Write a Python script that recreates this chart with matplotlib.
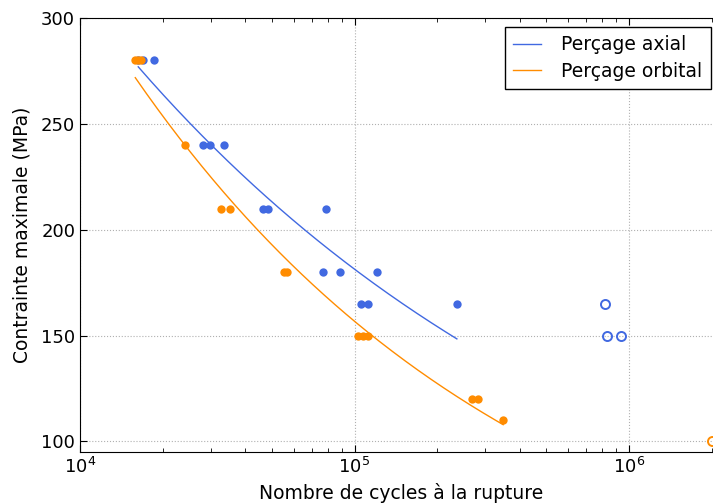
import numpy as np
import matplotlib.pyplot as plt

# essais rompus
axial_N = [16300, 16950, 18600, 28000, 29700, 33400, 46600, 48500, 78500,
           76500, 88300, 121000, 106000, 111700, 236000]
axial_S = [280, 280, 280, 240, 240, 240, 210, 210, 210,
           180, 180, 180, 165, 165, 165]
orbital_N = [15900, 16300, 16700, 24200, 32500, 35200, 55300, 56900,
             103000, 107000, 112000, 268000, 282000, 348000]
orbital_S = [280, 280, 280, 240, 210, 210, 180, 180,
             150, 150, 150, 120, 120, 110]

# essais non rompus
axial_run_N = [818000, 832000, 935000]
axial_run_S = [165, 150, 150]
orbital_run_N = [2000000]
orbital_run_S = [100]

blue = 'royalblue'
orange = 'darkorange'
fs = 13.5

fig = plt.figure(figsize=(7.13, 5.04), dpi=100)
xmax = 2.18e6
w = np.log10(xmax / 1e4) * 274.5 / 713
ax = fig.add_axes([80/713, 1 - 452/504, w, (452 - 18)/504])


def basquin(N, S):
    b, a = np.polyfit(np.log10(N), np.log10(S), 1)
    x = np.geomspace(min(N), max(N), 200)
    return x, 10**a * x**b


x, y = basquin(axial_N, axial_S)
ax.plot(x, y, color=blue, lw=1, label='Perçage axial')
x, y = basquin(orbital_N, orbital_S)
ax.plot(x, y, color=orange, lw=1, label='Perçage orbital')

ax.plot(axial_N, axial_S, 'o', color=blue, ms=6, mec='none')
ax.plot(orbital_N, orbital_S, 'o', color=orange, ms=6, mec='none')
ax.plot(axial_run_N, axial_run_S, 'o', mfc='none', mec=blue, ms=6.5, mew=1.4)
ax.plot(orbital_run_N, orbital_run_S, 'o', mfc='none', mec=orange, ms=6.5, mew=1.4,
        clip_on=False)

ax.set_xscale('log')
ax.set_xlim(1e4, xmax)
ax.set_ylim(95, 300)
ax.set_yticks([100, 150, 200, 250, 300])
ax.grid(True, color='#b0b0b0', ls=':', lw=0.8)
ax.tick_params(which='both', direction='in', top=True, right=True, labelsize=13)
ax.tick_params(which='major', length=5)
ax.tick_params(which='minor', length=3)
for s in ax.spines.values():
    s.set_color('black')
ax.set_xlabel('Nombre de cycles à la rupture', fontsize=fs)
ax.set_ylabel('Contrainte maximale (MPa)', fontsize=fs, labelpad=7)

leg = ax.legend(loc='upper left', bbox_to_anchor=(505/713, 1 - 27/504),
                bbox_transform=fig.transFigure, borderaxespad=0, borderpad=0.45,
                fontsize=fs, fancybox=False, handlelength=1.45,
                handletextpad=1.1, labelspacing=0.4, framealpha=1)
leg.get_frame().set_edgecolor('black')

fig.savefig('out.png', dpi=100)
